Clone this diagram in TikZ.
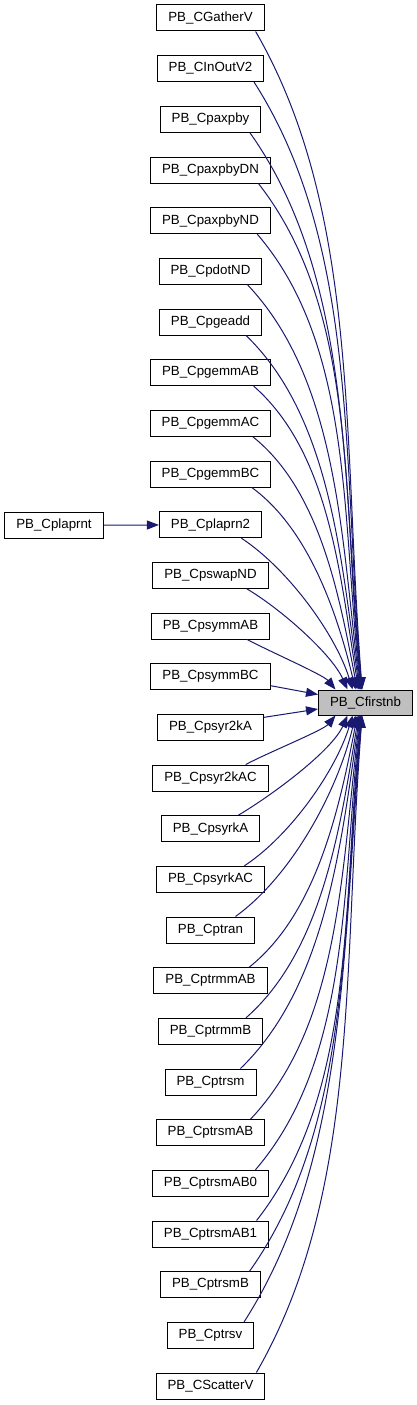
\documentclass[tikz,border=0pt]{standalone}
\usepackage{fontspec}
\setmainfont{Liberation Sans}
\usetikzlibrary{arrows.meta}
\definecolor{edgeblue}{HTML}{191970}
\definecolor{tgtgrey}{HTML}{BFBFBF}
\begin{document}
\begin{tikzpicture}[x=1pt,y=1pt,
  box/.style={draw=black, line width=1pt, fill=white, minimum height=26pt, inner xsep=11.5pt, inner ysep=0pt, font=\fontsize{13.3}{16}\selectfont},
  edge/.style={draw=edgeblue, line width=1pt, -{Triangle[length=12pt,width=9pt]}}]
\useasboundingbox (0,0) rectangle (417,-1405);
\node[box, fill=tgtgrey, minimum height=25pt] (t) at (365.5,-702.5) {PB\_Cfirstnb};
\foreach \n [count=\i from 0] in {GatherV,InOutV2,paxpby,paxpbyDN,paxpbyND,pdotND,pgeadd,pgemmAB,pgemmAC,pgemmBC,plaprn2,pswapND,psymmAB,psymmBC,psyr2kA,psyr2kAC,psyrkA,psyrkAC,ptran,ptrmmAB,ptrmmB,ptrsm,ptrsmAB,ptrsmAB0,ptrsmAB1,ptrsmB,ptrsv,ScatterV} {
  \node[box] (s\i) at (210.5,{-18-\i*50.667}) {PB\_C\n};
}
\node[box] (p) at (54,-525.5) {PB\_Cplaprnt};
\draw[edge] (p) -- (s10);
\foreach \i in {0,...,12,15,16,...,27} {
  \pgfmathsetmacro\k{\i-13.5}
  \pgfmathsetmacro\ak{abs(\k)}
  \pgfmathsetmacro\V{\ak*50.667-25.5}
  \pgfmathsetmacro\sx{-(9+14*(13.5-\ak)/12)}
  \pgfmathsetmacro\dx{-45/\ak}
  \pgfmathsetmacro\aa{28+32*(\ak-1.5)/12}
  \pgfmathsetmacro\da{0.3*\V+10}
  \pgfmathsetmacro\ab{90+60/\ak}
  \pgfmathsetmacro\db{0.38*\V}
  \ifnum\i<13
    \draw[edge] ([xshift=\sx pt]s\i.south east) .. controls +(-\aa:\da pt) and +(\ab:\db pt) .. ([xshift=\dx pt]t.north);
  \else
    \draw[edge] ([xshift=\sx pt]s\i.north east) .. controls +(\aa:\da pt) and +(-\ab:\db pt) .. ([xshift=\dx pt]t.south);
  \fi
}
\draw[edge] ([yshift=-9pt]s13.east) -- ([yshift=8pt]t.west);
\draw[edge] ([yshift=10pt]s14.east) -- ([yshift=-6.5pt]t.west);
\end{tikzpicture}
\end{document}
